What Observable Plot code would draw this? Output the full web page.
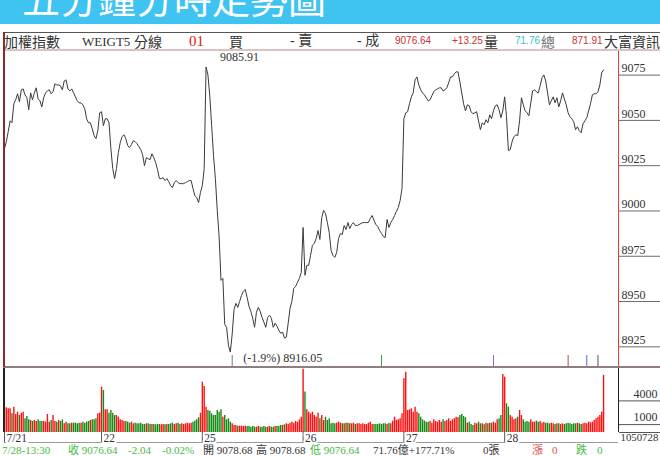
<!DOCTYPE html>
<html><head><meta charset="utf-8">
<script src="https://cdn.jsdelivr.net/npm/d3@7"></script>
<script src="https://cdn.jsdelivr.net/npm/@observablehq/plot@0.6"></script>
<style>
body{margin:0;background:#fff;}
#root{position:relative;width:660px;height:456px;overflow:hidden;background:#fff;}
.t{position:absolute;white-space:nowrap;transform-origin:0 50%;}
.ln{position:absolute;}
</style></head><body><div id="root"></div>
<script>
// ---------- data ----------
// 5-minute closes, 2016-07-21 (partial) .. 07-28
const closes = [
9030.8,9034.7,9040.2,9046.2,9045.1,9055.6,9057.8,9061.1,9056.7,9063.3,9063.8,9060.5,9058.9,9052.3,9061.6,9057.8,9061.6,9064.4,9058.3,9057.2,9053.9,9058.9,9061.6,9062.7,9063.3,9061.1,9062.2,9066.6,9066.0,9066.0,9065.5,9063.3,9068.2,9068.8,9063.8,9062.7,9063.8,9061.6,9059.4,9057.2,9056.1,9056.1,9055.0,9052.8,9047.3,9045.1,9045.1,9041.8,9038.0,9036.3,9040.7,9050.6,
9051.2,9043.5,9047.3,9047.3,9045.1,9030.8,9019.8,9014.3,9019.8,9028.6,9034.1,9037.4,9038.5,9036.3,9032.5,9031.4,9033.0,9035.2,9034.7,9033.6,9031.9,9030.3,9027.5,9021.4,9025.8,9025.3,9024.7,9028.0,9025.8,9023.1,9019.2,9014.3,9014.3,9014.8,9013.2,9014.3,9012.6,9010.4,9009.3,9012.1,9013.2,9012.1,9011.5,9011.5,9011.5,9012.1,9012.6,9013.2,9013.2,9008.8,9004.9,9003.8,
9001.1,9006.6,9010.4,9019.8,9075.9,9071.5,9060.0,9043.5,9026.9,9014.3,8996.7,8982.3,8958.1,8959.2,8933.9,8932.2,8922.3,8918.5,8928.4,8942.1,8945.4,8943.2,8946.5,8949.8,8952.0,8953.1,8948.7,8943.8,8941.0,8937.2,8932.2,8940.5,8943.2,8941.0,8937.7,8935.0,8932.2,8937.7,8938.8,8937.2,8932.2,8934.4,8932.8,8930.6,8928.9,8929.5,8926.2,8926.7,8934.4,8942.7,8946.5,8953.7,
8954.8,8957.0,8959.2,8962.5,8987.3,8960.9,8966.4,8966.4,8971.9,8977.4,8978.5,8981.2,8985.6,8980.7,8992.8,8996.7,8995.0,8990.0,8984.5,8974.6,8971.9,8970.8,8973.5,8981.2,8984.0,8983.4,8988.4,8986.2,8990.0,8986.7,8988.9,8990.0,8988.4,8988.4,8988.9,8989.5,8990.0,8990.0,8990.0,8990.0,8992.3,8993.9,8991.2,8988.9,8987.8,8985.6,8984.0,8982.3,8981.8,8991.7,8987.3,8990.0,8991.7,8993.9,
8996.1,8998.3,9002.2,9008.8,9047.3,9050.6,9051.2,9055.6,9059.4,9061.6,9068.8,9070.4,9066.0,9063.3,9061.6,9060.5,9058.9,9057.2,9057.8,9060.0,9062.2,9063.3,9063.8,9064.4,9064.4,9062.7,9063.3,9064.4,9067.1,9070.4,9070.4,9072.1,9073.2,9073.2,9067.7,9061.6,9055.6,9051.7,9055.0,9054.5,9051.2,9050.1,9050.6,9051.2,9046.2,9041.3,9045.1,9044.0,9046.8,9045.1,9049.5,9047.3,9051.7,9054.5,
9055.0,9052.3,9047.9,9051.7,9059.4,9048.4,9029.7,9030.3,9034.7,9037.4,9038.5,9038.0,9046.2,9058.9,9055.0,9051.7,9050.6,9049.0,9056.1,9062.7,9063.3,9062.2,9061.6,9065.5,9069.9,9071.5,9068.2,9061.6,9055.0,9057.2,9059.4,9056.1,9058.9,9053.9,9057.2,9061.6,9058.3,9055.0,9050.6,9048.4,9047.3,9045.7,9041.3,9042.9,9040.7,9039.6,9044.6,9046.2,9047.9,9051.7,9055.6,9060.5,9061.1,9061.1,9062.2,9066.0,9072.7,9074.3
];
// 5-minute volume per bar
const volumes = [
3210,3120,3000,3000,2360,3210,2280,2570,2150,2450,2570,1730,2030,1600,1520,1390,1520,1390,1600,1390,1390,1390,1310,2280,1310,1520,2150,1390,1310,1520,1390,1600,1100,1310,1100,1100,1180,1180,1180,1100,1180,1180,1310,1180,1310,1390,1520,1600,1600,1730,2360,2450,
5740,5320,2870,2870,2450,2790,2450,2150,2150,1940,1600,1520,1390,1390,1310,1180,1310,1100,1180,1100,1100,1180,1010,1010,1100,1100,1010,1010,1010,970,1010,1010,970,1010,970,1010,1010,1100,1180,1010,1100,1180,1010,1100,1010,1100,1180,1100,1180,1310,1440,1600,1860,2450,
6370,5820,3210,2790,2700,2360,2150,2150,2790,2570,2870,1940,2150,1600,1730,1310,1100,890,890,800,800,800,760,800,760,760,680,760,680,680,760,680,680,760,680,680,760,680,680,760,760,800,890,890,970,1100,1010,1180,1310,1180,1390,1310,1600,1940,
8020,5110,2870,2570,2360,2570,2150,1940,2450,1730,2150,1520,1940,1520,1730,1100,1180,1100,1180,1310,1180,1100,1100,1180,1180,1100,1100,1180,1010,1100,1100,1010,1100,1010,1010,1180,1310,1010,1010,1010,1010,1100,1010,1100,1100,1010,1180,1100,1440,1940,1520,1600,1730,2360,
6790,7640,2790,2870,3000,2570,3210,2570,2360,1940,1600,1440,1310,1310,1390,1180,1600,1390,1310,1520,1310,1600,1390,1520,1730,1390,1600,1730,1940,1860,2150,2280,2030,1860,1180,1310,1010,890,1180,1100,1310,1100,1100,970,1180,1100,1180,1180,1310,1180,1600,1730,2150,7340,
7010,3630,3210,2150,1940,1600,1730,1940,2790,2150,1600,1310,1390,1310,1600,1310,1310,1440,1310,1390,1180,1310,1180,1180,1100,1180,1100,1010,1100,1100,1010,1100,1010,1100,1180,1100,1010,1100,1100,1180,1100,1010,1100,1180,1100,1310,1220,1310,1520,1730,1940,2150,2570,7220
];
const dayLabels = ["7/21","22","25","26","27","28"];
const dayBars = [52,54,54,54,54,54];
const priceTicks = [8925,8950,8975,9000,9025,9050,9075];
const volTicks = [1000,4000];
const volLines = [0,1000,4000];
const periodHigh = 9085.91;
const periodLow = 8916.05;
const dateCode = "1050728";
const eventMarks = [122,202,262,302,312,318];
const eventColors = ["#777","#3aa03a","#a060b0","#b05050","#6a6ac8","#555"];

// ---------- tables ----------
const priceData = closes.map((v,i)=>({i, v}));
const volData = volumes.map((v,i)=>({i, v, c: (i===0 || closes[i] >= closes[i-1]) ? "#ff1010" : "#138a13"}));
let acc = 0;
const dayTicks = dayBars.map((n,k)=>{const d={i:acc,label:dayLabels[k]}; acc+=n; return d;});
const markData = eventMarks.map((i,k)=>({i, c: eventColors[k]}));
const iHi = closes.indexOf(d3.max(closes));
const iLo = closes.indexOf(d3.min(closes));
const pct = ((periodLow - periodHigh)/periodHigh*100).toFixed(1);

const root = document.getElementById("root");
const SERIF = "'Liberation Serif','Noto Sans CJK TC',serif";
const SANS = "'Liberation Sans','Noto Sans CJK TC',sans-serif";
const CJK = "'Noto Sans CJK TC',sans-serif";
const X = {domain:[0,329], axis:null};

function place(el, left, top){const d=document.createElement("div");d.style.cssText=`position:absolute;left:${left}px;top:${top}px;`;d.append(el);root.append(d);}
function line(l,t,w,h,c){const d=document.createElement("div");d.className="ln";d.style.cssText=`left:${l}px;top:${t}px;width:${w}px;height:${h}px;background:${c};`;root.append(d);}
function txt(s,x,yc,o={}){const size=o.size||12;const d=document.createElement("div");d.className="t";d.textContent=s;
 d.style.cssText=`left:${x}px;top:${yc-size/2}px;font-size:${size}px;line-height:${size}px;height:${size}px;color:${o.color||"#333"};font-family:${o.font||SERIF};`+(o.sx?`transform:scaleX(${o.sx});`:"");root.append(d);}

// banner
line(0,0,660,24,"#3fc3f0");
txt("五分鐘分時走勢圖",22,-3,{size:38,color:"#fff",font:CJK});

// price panel
const pricePlot = Plot.plot({
  width:660, height:317, marginLeft:4, marginRight:42, marginTop:0, marginBottom:0,
  x:X, y:{domain:[8910,9085], axis:null, label:null},
  style:{background:"none", fontFamily:SERIF, fontSize:"12px", color:"#333", overflow:"visible"},
  marks:[
    Plot.axisY(priceTicks,{anchor:"right", tickSize:42, fill:"none", stroke:"#6a6a6a", dy:6.5, label:null}),
    Plot.axisY(priceTicks,{anchor:"right", tickSize:0, tickPadding:3, textAnchor:"start", tickFormat:d=>String(d), label:null, fill:"#333", fontSize:12}),
    Plot.line(priceData,{x:"i", y:"v", stroke:"#3a3a3a", strokeWidth:1}),
    Plot.text([{i:iHi, v:periodHigh}],{x:"i", y:"v", text:d=>d.v.toFixed(2), textAnchor:"start", dx:14, dy:8, fill:"#333", fontSize:12}),
    Plot.text([{i:iLo, v:periodLow}],{x:"i", y:"v", text:d=>`(${pct}%) ${d.v.toFixed(2)}`, textAnchor:"start", dx:13, dy:2, fill:"#333", fontSize:12}),
    Plot.tickX(markData,{x:"i", stroke:"c", insetTop:305, strokeWidth:1})
  ]
});
place(pricePlot,0,50);

// volume panel
const volPlot = Plot.plot({
  width:660, height:65, marginLeft:4, marginRight:42, marginTop:0, marginBottom:1,
  x:X, y:{domain:[0,8100], axis:null, label:null}, color:{type:"identity"},
  style:{background:"none", fontFamily:SERIF, fontSize:"12px", color:"#333", overflow:"visible"},
  marks:[
    Plot.axisY(volLines,{anchor:"right", tickSize:42, fill:"none", stroke:"#555", label:null}),
    Plot.axisY(volTicks,{anchor:"right", tickSize:0, tickPadding:39, textAnchor:"end", dy:-7, tickFormat:d=>String(d), label:null, fill:"#333", fontSize:12}),
    Plot.ruleX(volData,{x:"i", y1:0, y2:"v", stroke:"c", strokeWidth:1.4})
  ]
});
place(volPlot,0,368);

// date row
const datePlot = Plot.plot({
  width:660, height:12, marginLeft:4, marginRight:42, marginTop:0, marginBottom:1,
  x:X, y:{domain:[0,1], axis:null},
  style:{background:"none", fontFamily:SERIF, fontSize:"11.5px", color:"#333", overflow:"visible"},
  marks:[
    Plot.ruleY([0],{stroke:"#9a9a9a"}),
    Plot.ruleX(dayTicks,{x:"i", stroke:"#555"}),
    Plot.text(dayTicks,{x:"i", text:"label", textAnchor:"start", dx:2, dy:1, fill:"#333", stroke:"#fff", strokeWidth:4, paintOrder:"stroke", fontSize:11.5}),
    Plot.text([dateCode],{text:d=>d, frameAnchor:"right", textAnchor:"start", dx:2, dy:1, fill:"#333", fontSize:10.8})
  ]
});
place(datePlot,0,431);

// frame lines
line(3,32,657,1,"#555");
line(3,49,657,2,"#dcc3c3");
line(3,366,657,2,"#8c7f7f");
line(3,32,2,335,"#8b2a2a");
line(3,368,2,64,"#222");
line(618,51,1,315,"#e03c3c");
line(618,368,1,64,"#222");

// header row
const header = [
 ["加權指數",4,{font:CJK,size:14}],
 ["WEIGT5",82,{size:13}],
 ["分線",134,{font:CJK,size:14}],
 ["01",189,{size:15,color:"#d42020"}],
 ["買",229,{font:CJK,size:14}],
 ["- 賣",290,{size:14}],
 ["- 成",357,{size:14}],
 ["9076.64",395,{font:SANS,size:10,color:"#c83232"}],
 ["+13.25",452,{font:SANS,size:10,color:"#c83232"}],
 ["量",484,{font:CJK,size:14}],
 ["71.76",515,{font:SANS,size:10,color:"#38c0c0"}],
 ["總",541,{font:CJK,size:14,color:"#777"}],
 ["871.91",572,{font:SANS,size:10,color:"#c83232"}],
 ["大富資訊",604,{font:CJK,size:14}]
];
header.forEach(([s,x,o])=>txt(s,x,41,o));

// status row
const G="#44bb44", R="#e05050";
const status = [
 ["7/28-13:30",2,G],["收 9076.64",68,G],["-2.04",128,G],["-0.02%",162,G],
 ["開 9078.68",203,"#333"],["高 9078.68",256,"#333"],["低 9076.64",310,G],
 ["71.76億+177.71%",373,"#333"],["0張",483,"#333"],
 ["漲",532,R],["0",552,R],["跌",576,G],["0",597,G]
];
status.forEach(([s,x,c])=>txt(s,x,450.5,{color:c,size:11}));
</script></body></html>
